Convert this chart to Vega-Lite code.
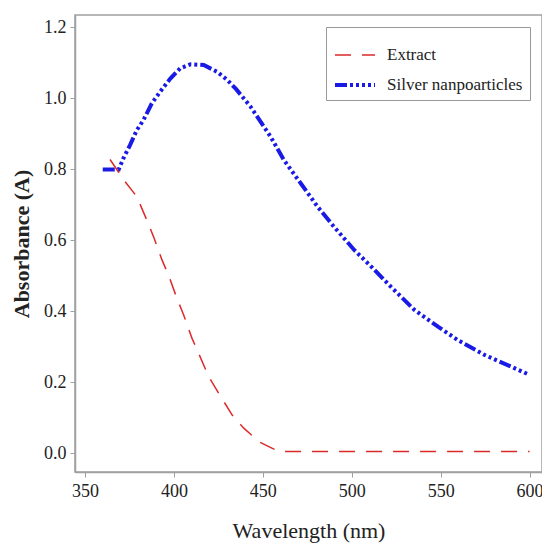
{
  "$schema": "https://vega.github.io/schema/vega-lite/v6.json",
  "width": 467,
  "height": 457,
  "autosize": {"type": "none"},
  "padding": {"left": 75, "top": 15, "right": 0, "bottom": 77},
  "background": "white",
  "config": {
    "view": {"stroke": "#a0a0a0", "strokeWidth": 1.5},
    "axis": {"grid": false, "domainColor": "#a0a0a0", "domainWidth": 1.5, "tickColor": "#a0a0a0", "tickSize": 5, "labelFont": "Liberation Serif", "labelFontSize": 18, "labelColor": "#222", "titleFont": "Liberation Serif", "titleColor": "#222"},
    "legend": {"title": null, "orient": "none", "legendX": 251, "legendY": 12, "symbolType": "stroke", "symbolSize": 1600, "labelFont": "Liberation Serif", "labelFontSize": 17, "labelColor": "#222", "strokeColor": "#999", "fillColor": "white", "padding": 7, "rowPadding": 0, "labelOffset": 10}
  },
  "data": {
    "values": [
      {"series": "Silver nanpoarticles", "wl": 360, "abs": 0.799},
      {"series": "Silver nanpoarticles", "wl": 369, "abs": 0.799},
      {"series": "Silver nanpoarticles", "wl": 371.6, "abs": 0.83},
      {"series": "Silver nanpoarticles", "wl": 375.4, "abs": 0.868},
      {"series": "Silver nanpoarticles", "wl": 379.2, "abs": 0.91},
      {"series": "Silver nanpoarticles", "wl": 382.9, "abs": 0.938},
      {"series": "Silver nanpoarticles", "wl": 387.6, "abs": 0.985},
      {"series": "Silver nanpoarticles", "wl": 392.3, "abs": 1.018},
      {"series": "Silver nanpoarticles", "wl": 398, "abs": 1.055},
      {"series": "Silver nanpoarticles", "wl": 403.6, "abs": 1.084},
      {"series": "Silver nanpoarticles", "wl": 409.3, "abs": 1.095},
      {"series": "Silver nanpoarticles", "wl": 416.8, "abs": 1.093},
      {"series": "Silver nanpoarticles", "wl": 424.3, "abs": 1.074},
      {"series": "Silver nanpoarticles", "wl": 430, "abs": 1.051},
      {"series": "Silver nanpoarticles", "wl": 435, "abs": 1.025},
      {"series": "Silver nanpoarticles", "wl": 443.1, "abs": 0.976},
      {"series": "Silver nanpoarticles", "wl": 454.4, "abs": 0.891},
      {"series": "Silver nanpoarticles", "wl": 461.9, "abs": 0.825},
      {"series": "Silver nanpoarticles", "wl": 471.3, "abs": 0.76},
      {"series": "Silver nanpoarticles", "wl": 480.8, "abs": 0.694},
      {"series": "Silver nanpoarticles", "wl": 490.1, "abs": 0.637},
      {"series": "Silver nanpoarticles", "wl": 501.4, "abs": 0.572},
      {"series": "Silver nanpoarticles", "wl": 511, "abs": 0.525},
      {"series": "Silver nanpoarticles", "wl": 522.1, "abs": 0.468},
      {"series": "Silver nanpoarticles", "wl": 535.3, "abs": 0.403},
      {"series": "Silver nanpoarticles", "wl": 548.5, "abs": 0.356},
      {"series": "Silver nanpoarticles", "wl": 559.7, "abs": 0.318},
      {"series": "Silver nanpoarticles", "wl": 574.8, "abs": 0.276},
      {"series": "Silver nanpoarticles", "wl": 589.8, "abs": 0.243},
      {"series": "Silver nanpoarticles", "wl": 600, "abs": 0.22},
      {"series": "Extract", "wl": 364.1, "abs": 0.827},
      {"series": "Extract", "wl": 372.6, "abs": 0.764},
      {"series": "Extract", "wl": 379.2, "abs": 0.722},
      {"series": "Extract", "wl": 384.8, "abs": 0.656},
      {"series": "Extract", "wl": 388.6, "abs": 0.609},
      {"series": "Extract", "wl": 393.3, "abs": 0.544},
      {"series": "Extract", "wl": 397, "abs": 0.501},
      {"series": "Extract", "wl": 401.7, "abs": 0.436},
      {"series": "Extract", "wl": 405.5, "abs": 0.389},
      {"series": "Extract", "wl": 410.2, "abs": 0.323},
      {"series": "Extract", "wl": 413.9, "abs": 0.281},
      {"series": "Extract", "wl": 419.6, "abs": 0.215},
      {"series": "Extract", "wl": 425.2, "abs": 0.168},
      {"series": "Extract", "wl": 432.8, "abs": 0.107},
      {"series": "Extract", "wl": 439.3, "abs": 0.07},
      {"series": "Extract", "wl": 447.8, "abs": 0.032},
      {"series": "Extract", "wl": 455.4, "abs": 0.013},
      {"series": "Extract", "wl": 459.1, "abs": 0.004},
      {"series": "Extract", "wl": 500, "abs": 0.004},
      {"series": "Extract", "wl": 550, "abs": 0.004},
      {"series": "Extract", "wl": 600, "abs": 0.004}
    ]
  },
  "mark": {"type": "line", "clip": true},
  "encoding": {
    "x": {"field": "wl", "type": "quantitative", "scale": {"domain": [344.4, 607], "nice": false, "zero": false},
      "axis": {"values": [350, 400, 450, 500, 550, 600], "title": "Wavelength (nm)", "titleFontSize": 22, "titleFontWeight": "normal", "titlePadding": 20, "labelPadding": 5}},
    "y": {"field": "abs", "type": "quantitative", "scale": {"domain": [-0.0535, 1.234], "nice": false, "zero": false},
      "axis": {"values": [0, 0.2, 0.4, 0.6, 0.8, 1.0, 1.2], "format": ".1f", "title": "Absorbance (A)", "titleFontSize": 22, "titleFontWeight": "bold", "titlePadding": 10, "labelPadding": 4}},
    "color": {"field": "series", "type": "nominal", "sort": ["Extract", "Silver nanpoarticles"],
      "scale": {"domain": ["Extract", "Silver nanpoarticles"], "range": ["#dc2a2a", "#1a1ae6"]}},
    "strokeDash": {"field": "series", "type": "nominal", "sort": ["Extract", "Silver nanpoarticles"],
      "scale": {"domain": ["Extract", "Silver nanpoarticles"], "range": [[16, 11], [12, 3, 3, 3, 3, 3, 3, 3, 3, 3]]}},
    "strokeWidth": {"field": "series", "type": "nominal", "sort": ["Extract", "Silver nanpoarticles"],
      "scale": {"domain": ["Extract", "Silver nanpoarticles"], "range": [1.5, 4]}}
  }
}
